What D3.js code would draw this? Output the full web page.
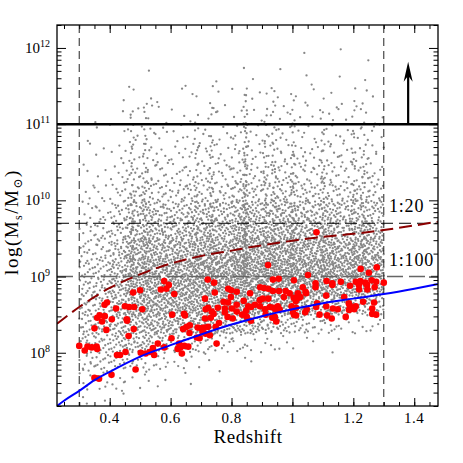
<!doctype html>
<html lang="en">
<head>
  <meta charset="utf-8">
  <title>Stellar mass vs redshift</title>
  <script src="https://d3js.org/d3.v7.min.js"></script>
  <style>
    body { margin: 0; background: #fff; }
    text { font-family: "Liberation Serif", "DejaVu Serif", serif; fill: #000; }
  </style>
</head>
<body>
<div id="chart"></div>
<script>
// ---- data ----
// gray cloud: counts per cell, columns of 0.05 in z, rows of 0.25 dex in log M
var grayZ0 = [0.30, 0.35, 0.40, 0.45, 0.50, 0.55, 0.60, 0.65, 0.70, 0.75,
              0.80, 0.85, 0.90, 0.95, 1.00, 1.05, 1.10, 1.15, 1.20, 1.25];
var grayLogM0 = [7.25, 7.5, 7.75, 8.0, 8.25, 8.5, 8.75, 9.0, 9.25, 9.5,
                 9.75, 10.0, 10.25, 10.5, 10.75, 11.0, 11.25, 11.5, 11.75];
var grayCounts = [
  [ 3, 2, 1, 0, 0, 0, 0, 0, 0, 0, 0, 0, 0, 0, 0, 0, 0, 0, 0, 0],  // 7.25
  [ 6, 6, 5, 3, 2, 2, 1, 1, 0, 0, 0, 0, 0, 0, 0, 0, 0, 0, 0, 0],  // 7.5
  [11,12,13,11, 8, 6, 5, 3, 2, 1, 1, 1, 0, 0, 0, 0, 0, 0, 0, 0],  // 7.75
  [15,17,22,24,22,19,17,14,11, 8, 7, 5, 4, 3, 2, 1, 1, 1, 0, 0],  // 8.0
  [16,18,26,32,34,34,34,33,32,30,30,26,22,19,15,11, 9, 6, 5, 4],  // 8.25
  [16,19,28,38,42,42,44,45,46,45,50,45,42,43,40,35,32,27,24,20],  // 8.5
  [15,18,28,40,46,45,46,48,52,50,58,52,50,55,52,48,48,44,42,38],  // 8.75
  [13,16,26,38,44,42,44,46,50,47,58,51,48,54,52,48,50,46,47,42],  // 9.0
  [10,13,21,32,37,34,36,37,41,38,48,42,39,45,43,39,41,37,39,34],  // 9.25
  [ 7,10,16,25,29,27,27,28,32,29,38,33,30,35,34,30,32,28,31,27],  // 9.5
  [ 5, 7,12,19,22,20,20,21,24,21,29,25,22,27,26,22,24,21,23,20],  // 9.75
  [ 3, 4, 7,11,13,11,11,12,13,12,16,13,13,15,15,13,14,12,14,11],  // 10.0
  [ 2, 2, 5, 7, 8, 7, 7, 7, 9, 8,11, 9, 8,10,10, 8, 9, 7, 9, 7],  // 10.25
  [ 1, 2, 3, 5, 6, 5, 5, 5, 6, 5, 8, 6, 6, 7, 7, 6, 6, 5, 6, 5],  // 10.5
  [ 1, 1, 2, 4, 4, 4, 4, 4, 4, 4, 6, 4, 4, 5, 5, 4, 4, 4, 4, 4],  // 10.75
  [ 0, 1, 1, 2, 3, 2, 2, 2, 3, 2, 3, 3, 2, 3, 3, 2, 3, 2, 3, 2],  // 11.0
  [ 0, 0, 1, 1, 1, 1, 1, 1, 1, 1, 2, 2, 1, 1, 2, 1, 1, 1, 2, 1],  // 11.25
  [ 0, 0, 0, 0, 1, 0, 1, 0, 0, 1, 1, 1, 0, 1, 1, 1, 0, 1, 1, 0],  // 11.5
  [ 0, 0, 0, 0, 0, 0, 0, 0, 0, 0, 0, 0, 0, 0, 1, 0, 0, 1, 1, 0]   // 11.75
];

// narrow redshift spikes (structures), extra counts for log M rows 9.0 .. 11.25
var spikeZ = [0.475, 0.515, 0.685, 0.735, 0.845, 0.91, 0.94, 1.0, 1.1, 1.2, 1.23];
var spikeLogM0 = [9.0, 9.25, 9.5, 9.75, 10.0, 10.25, 10.5, 10.75, 11.0, 11.25];
var spikeCounts = [
  [ 6, 6, 5, 5, 4, 4, 3, 3, 2, 1],
  [ 5, 5, 4, 4, 4, 3, 3, 2, 2, 1],
  [ 5, 5, 4, 4, 3, 3, 3, 2, 1, 1],
  [ 5, 5, 4, 4, 3, 3, 3, 2, 2, 1],
  [12,12,10, 9, 8, 7, 6, 5, 4, 3],
  [ 6, 6, 5, 5, 4, 4, 3, 3, 2, 1],
  [ 6, 6, 5, 5, 4, 4, 3, 3, 2, 2],
  [ 7, 7, 6, 6, 5, 4, 4, 3, 3, 2],
  [ 6, 6, 5, 5, 4, 4, 3, 3, 2, 1],
  [ 5, 5, 4, 4, 4, 3, 3, 2, 2, 1],
  [ 4, 4, 4, 3, 3, 3, 2, 2, 1, 1]
];

// red galaxies: [redshift, log M]
var redGalaxies = [
  [0.579,8.94],[0.500,8.82],[0.477,8.79],[0.568,8.83],[0.586,8.84],[0.391,8.66],[0.383,8.63],
  [0.421,8.58],[0.450,8.61],[0.464,8.60],[0.480,8.60],[0.507,8.57],[0.367,8.49],[0.384,8.48],
  [0.359,8.46],[0.407,8.44],[0.456,8.44],[0.375,8.41],[0.457,8.42],[0.350,8.32],[0.389,8.30],
  [0.479,8.31],[0.462,8.22],[0.300,8.09],[0.318,8.03],[0.327,8.08],[0.341,8.07],[0.357,8.08],
  [0.359,8.05],[0.424,7.97],[0.434,7.97],[0.452,8.01],[0.502,8.00],[0.518,7.99],[0.532,8.01],
  [0.546,7.97],[0.542,8.06],[0.558,8.12],[0.579,8.07],[0.485,7.78],[0.350,7.67],[0.365,7.66],
  [0.406,7.71],
  [0.920,9.15],[0.722,8.96],[0.743,8.92],[0.594,8.89],[0.612,8.77],[0.789,8.84],[0.799,8.82],
  [0.817,8.80],[0.861,8.78],[0.894,8.86],[0.907,8.85],[0.921,8.84],[0.745,8.79],[0.713,8.71],
  [0.798,8.73],[0.840,8.68],[0.903,8.71],[0.893,8.69],[0.921,8.71],[0.774,8.67],[0.789,8.66],
  [0.817,8.63],[0.855,8.61],[0.877,8.63],[0.893,8.61],[0.723,8.59],[0.715,8.57],[0.755,8.59],
  [0.778,8.58],[0.801,8.58],[0.817,8.54],[0.848,8.55],[0.864,8.60],[0.910,8.57],[0.926,8.60],
  [0.938,8.59],[0.605,8.50],[0.644,8.51],[0.647,8.49],[0.735,8.54],[0.741,8.51],[0.778,8.53],
  [0.713,8.45],[0.732,8.46],[0.787,8.47],[0.804,8.45],[0.835,8.50],[0.850,8.47],[0.864,8.42],
  [0.912,8.50],[0.934,8.46],[0.663,8.36],[0.653,8.34],[0.641,8.31],[0.689,8.33],[0.700,8.32],
  [0.710,8.33],[0.723,8.34],[0.748,8.34],[0.759,8.39],[0.662,8.26],[0.686,8.20],[0.695,8.19],
  [0.705,8.27],[0.715,8.25],[0.729,8.23],[0.603,8.19],[0.628,8.12],[0.632,8.07],[0.645,8.09],
  [0.658,8.08],[0.623,8.05],[0.637,7.99],[0.751,8.12],
  [1.079,9.58],[1.051,9.02],[1.224,9.10],[1.251,9.05],[1.277,9.12],[0.936,8.96],[0.955,8.97],
  [1.005,8.95],[1.076,8.91],[1.076,8.86],[1.112,8.94],[1.131,8.91],[1.131,8.89],[1.159,8.93],
  [1.189,8.88],[1.208,8.93],[1.223,8.94],[1.239,8.92],[1.260,8.95],[1.275,8.93],[1.300,8.92],
  [1.218,8.89],[1.245,8.89],[1.219,8.83],[1.246,8.83],[1.270,8.86],[0.936,8.81],[0.956,8.81],
  [0.978,8.81],[0.991,8.78],[1.018,8.78],[1.034,8.86],[1.043,8.80],[1.045,8.78],[0.972,8.73],
  [1.004,8.72],[1.015,8.71],[1.011,8.68],[1.026,8.73],[1.111,8.75],[1.170,8.73],[1.232,8.67],
  [1.268,8.66],[0.952,8.61],[0.958,8.57],[0.944,8.57],[0.997,8.61],[1.012,8.59],[1.047,8.57],
  [1.081,8.65],[1.078,8.60],[1.111,8.61],[1.133,8.58],[1.149,8.57],[1.185,8.65],[1.188,8.62],
  [1.199,8.59],[1.208,8.61],[1.186,8.56],[1.203,8.57],[0.942,8.47],[0.947,8.41],[1.002,8.53],
  [1.005,8.50],[1.012,8.49],[1.042,8.53],[1.089,8.50],[1.114,8.49],[1.129,8.45],[1.175,8.47],
  [1.262,8.58],[1.262,8.51],[1.275,8.50]
];

// completeness curves
var blueZ    = [0.227, 0.25, 0.30, 0.35, 0.40, 0.50, 0.60, 0.70, 0.80, 0.90, 1.00, 1.10, 1.20, 1.30, 1.40, 1.478];
var blueLogM = [7.30, 7.37, 7.50, 7.64, 7.75, 7.95, 8.10, 8.24, 8.37, 8.48, 8.57, 8.65, 8.71, 8.77, 8.84, 8.90];
var darkRedZ    = [0.227, 0.30, 0.40, 0.50, 0.60, 0.70, 0.80, 0.90, 1.00, 1.10, 1.20, 1.30, 1.40, 1.478];
var darkRedLogM = [8.38, 8.60, 8.85, 9.03, 9.17, 9.27, 9.34, 9.41, 9.47, 9.52, 9.56, 9.61, 9.67, 9.72];

var zLimits = [0.3, 1.3];
var massCut = 1e11;
var ratioLines = [{ m: 5e9, label: "1:20" }, { m: 1e9, label: "1:100" }];
var arrowZ = 1.38, arrowTopLogM = 11.82;

var xTickValues = [0.4, 0.6, 0.8, 1.0, 1.2, 1.4];
var xTickLabels = ["0.4", "0.6", "0.8", "1", "1.2", "1.4"];
var yTickExp = [8, 9, 10, 11, 12];

// ---- layout ----
var W = 463, H = 463;
var L = 57, R = 438, T = 25, B = 406;

var svg = d3.select("#chart").append("svg")
  .attr("width", W).attr("height", H);

var x = d3.scaleLinear().domain([0.227, 1.478]).range([L, R]);
var y = d3.scaleLog().domain([2e7, 2e12]).range([B, T]);

var plot = svg.append("g");
svg.append("clipPath").attr("id", "clip")
  .append("rect").attr("x", L).attr("y", T).attr("width", R - L).attr("height", B - T);
plot.attr("clip-path", "url(#clip)");

// gray points, spread evenly inside each cell (halton placement)
function halton(i, b) {
  var f = 1, r = 0;
  while (i > 0) { f /= b; r += f * (i % b); i = Math.floor(i / b); }
  return r;
}
var gray = [];
grayCounts.forEach(function (row, r) {
  row.forEach(function (n, c) {
    var start = (r * 20 + c) * 11 + 1;
    for (var i = 0; i < n; i++) {
      gray.push([grayZ0[c] + halton(start + i, 2) * 0.05,
                 grayLogM0[r] + halton(start + i, 3) * 0.25]);
    }
  });
});
spikeCounts.forEach(function (row, s) {
  row.forEach(function (n, r) {
    var start = (s * 10 + r) * 13 + 5000;
    for (var i = 0; i < n; i++) {
      gray.push([spikeZ[s] - 0.007 + halton(start + i, 2) * 0.014,
                 spikeLogM0[r] + halton(start + i, 3) * 0.25]);
    }
  });
});

plot.append("g").selectAll("circle")
  .data(gray).enter().append("circle")
  .attr("cx", function (d) { return x(d[0]); })
  .attr("cy", function (d) { return y(Math.pow(10, d[1])); })
  .attr("r", 1.15)
  .attr("fill", "#878787");

// vertical redshift limits
plot.selectAll(".zlim").data(zLimits).enter().append("line")
  .attr("x1", function (d) { return x(d); }).attr("x2", function (d) { return x(d); })
  .attr("y1", T).attr("y2", B)
  .attr("stroke", "#222").attr("stroke-width", 1)
  .attr("stroke-dasharray", "8,5");

// ratio lines
plot.append("line")
  .attr("x1", L).attr("x2", R)
  .attr("y1", y(ratioLines[0].m)).attr("y2", y(ratioLines[0].m))
  .attr("stroke", "#000").attr("stroke-width", 1)
  .attr("stroke-dasharray", "12,6");
plot.append("line")
  .attr("x1", L).attr("x2", R)
  .attr("y1", y(ratioLines[1].m)).attr("y2", y(ratioLines[1].m))
  .attr("stroke", "#666").attr("stroke-width", 1.5)
  .attr("stroke-dasharray", "16,6");

// red galaxies
plot.append("g").selectAll("circle")
  .data(redGalaxies).enter().append("circle")
  .attr("cx", function (d) { return x(d[0]); })
  .attr("cy", function (d) { return y(Math.pow(10, d[1])); })
  .attr("r", 3.3)
  .attr("fill", "#ff0000");

// curves
var line = d3.line()
  .x(function (d) { return x(d[0]); })
  .y(function (d) { return y(Math.pow(10, d[1])); })
  .curve(d3.curveMonotoneX);

plot.append("path")
  .datum(darkRedZ.map(function (z, i) { return [z, darkRedLogM[i]]; }))
  .attr("d", line)
  .attr("fill", "none").attr("stroke", "#8b0000").attr("stroke-width", 2)
  .attr("stroke-dasharray", "13,6");

plot.append("path")
  .datum(blueZ.map(function (z, i) { return [z, blueLogM[i]]; }))
  .attr("d", line)
  .attr("fill", "none").attr("stroke", "#0000ff").attr("stroke-width", 2);

// mass cut and arrow
plot.append("line")
  .attr("x1", L).attr("x2", R)
  .attr("y1", y(massCut)).attr("y2", y(massCut))
  .attr("stroke", "#000").attr("stroke-width", 2.5);

var ax = x(arrowZ), atop = y(Math.pow(10, arrowTopLogM));
plot.append("line")
  .attr("x1", ax).attr("x2", ax)
  .attr("y1", y(massCut)).attr("y2", atop + 8)
  .attr("stroke", "#000").attr("stroke-width", 2.2);
plot.append("path")
  .attr("d", "M" + ax + "," + atop + " L" + (ax - 4.5) + "," + (atop + 20) +
             " L" + ax + "," + (atop + 14) + " L" + (ax + 4.5) + "," + (atop + 20) + "Z")
  .attr("fill", "#000");

// ratio labels
ratioLines.forEach(function (d) {
  svg.append("text")
    .attr("x", 389).attr("y", y(d.m) - 11)
    .style("font-size", "18px")
    .style("letter-spacing", "0.8px")
    .text(d.label);
});

// ---- axes ----
var yMinor = [];
[1e7, 1e8, 1e9, 1e10, 1e11, 1e12].forEach(function (d) {
  for (var k = 2; k <= 9; k++) {
    var v = k * d;
    if (v >= 2e7 && v <= 2e12) yMinor.push(v);
  }
});
var yMajor = yTickExp.map(function (e) { return Math.pow(10, e); });
var xMinor = d3.range(0.25, 1.476, 0.05);

function ticks(g) {
  g.selectAll(".domain").remove();
  g.selectAll("line").attr("stroke", "#000").attr("stroke-width", 1);
}

svg.append("g").attr("transform", "translate(" + L + ",0)")
  .call(d3.axisLeft(y).tickValues(yMajor).tickSize(-9).tickFormat("")).call(ticks);
svg.append("g").attr("transform", "translate(" + L + ",0)")
  .call(d3.axisLeft(y).tickValues(yMinor).tickSize(-4.5).tickFormat("")).call(ticks);
svg.append("g").attr("transform", "translate(" + R + ",0)")
  .call(d3.axisRight(y).tickValues(yMajor).tickSize(-9).tickFormat("")).call(ticks);
svg.append("g").attr("transform", "translate(" + R + ",0)")
  .call(d3.axisRight(y).tickValues(yMinor).tickSize(-4.5).tickFormat("")).call(ticks);
svg.append("g").attr("transform", "translate(0," + B + ")")
  .call(d3.axisBottom(x).tickValues(xTickValues).tickSize(-8).tickFormat("")).call(ticks);
svg.append("g").attr("transform", "translate(0," + B + ")")
  .call(d3.axisBottom(x).tickValues(xMinor).tickSize(-4).tickFormat("")).call(ticks);
svg.append("g").attr("transform", "translate(0," + T + ")")
  .call(d3.axisTop(x).tickValues(xTickValues).tickSize(-8).tickFormat("")).call(ticks);
svg.append("g").attr("transform", "translate(0," + T + ")")
  .call(d3.axisTop(x).tickValues(xMinor).tickSize(-4).tickFormat("")).call(ticks);

svg.append("rect")
  .attr("x", L).attr("y", T).attr("width", R - L).attr("height", B - T)
  .attr("fill", "none").attr("stroke", "#000").attr("stroke-width", 1.3);

// tick labels
xTickValues.forEach(function (v, i) {
  svg.append("text")
    .attr("x", x(v)).attr("y", 423)
    .attr("text-anchor", "middle")
    .style("font-size", "15px")
    .style("letter-spacing", "0.5px")
    .text(xTickLabels[i]);
});

yTickExp.forEach(function (e) {
  var t = svg.append("text")
    .attr("x", 50).attr("y", y(Math.pow(10, e)) + 5)
    .attr("text-anchor", "end")
    .style("font-size", "15px");
  t.append("tspan").text("10");
  t.append("tspan").attr("dy", -6).style("font-size", "10px").text(String(e));
});

// axis titles
svg.append("text")
  .attr("x", 248).attr("y", 443)
  .attr("text-anchor", "middle")
  .style("font-size", "19px")
  .style("letter-spacing", "0.6px")
  .text("Redshift");

var yt = svg.append("text")
  .attr("transform", "translate(18,222) rotate(-90)")
  .attr("text-anchor", "middle")
  .style("font-size", "19px")
  .style("letter-spacing", "1.5px");
yt.append("tspan").text("log(M");
yt.append("tspan").attr("dy", 4).style("font-size", "12px").text("s");
yt.append("tspan").attr("dy", -4).text("/M");
yt.append("tspan").attr("dy", 4).style("font-size", "12px").text("\u2299");
yt.append("tspan").attr("dy", -4).text(")");
</script>
</body>
</html>
